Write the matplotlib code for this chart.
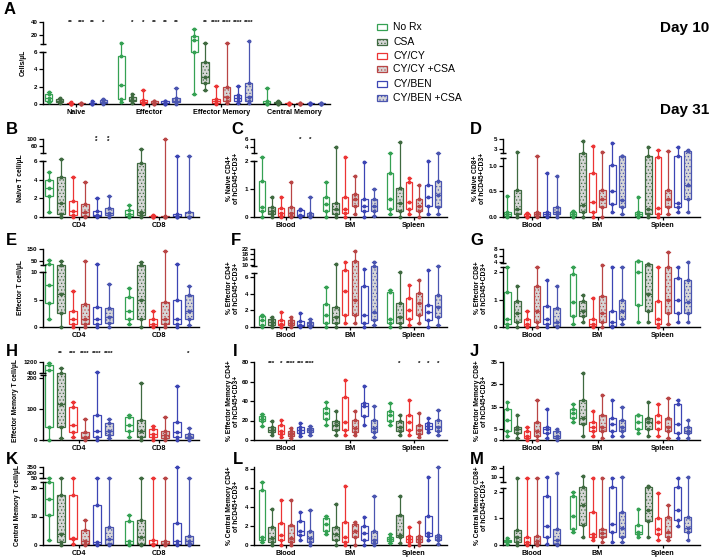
import numpy as np
import matplotlib
matplotlib.use("Agg")
import matplotlib.pyplot as plt
from matplotlib.patches import Rectangle

plt.rcParams['font.family'] = ['Liberation Sans', 'DejaVu Sans']
plt.rcParams['font.weight'] = 'bold'
plt.rcParams['hatch.linewidth'] = 0.5

treatments = ["No Rx", "CSA", "CY/CY", "CY/CY +CSA", "CY/BEN", "CY/BEN +CSA"]
colors = ["#35a153", "#3f6a40", "#ec3434", "#b94545", "#3c45b4", "#4a55b0"]
hatched = [False, True, False, True, False, True]

# ---- data (one list per treatment, in the order above) ----
A_groups = ["Naive", "Effector", "Effector Memory", "Central Memory"]
A_naive = [[0.2, 0.4, 0.7, 1.1, 1.4], [0.1, 0.2, 0.4, 0.6, 0.7], [0.0, 0.02, 0.05, 0.1, 0.2],
           [0.0, 0.02, 0.05, 0.1, 0.15], [0.0, 0.03, 0.08, 0.15, 0.3], [0.05, 0.1, 0.2, 0.5, 0.6]]
A_effector = [[0.2, 0.6, 2.2, 5.5, 7.0], [0.1, 0.3, 0.5, 0.8, 1.2], [0.0, 0.1, 0.2, 0.5, 1.6],
              [0.0, 0.05, 0.1, 0.3, 0.4], [0.0, 0.05, 0.1, 0.3, 0.4], [0.0, 0.2, 0.4, 0.7, 1.8]]
A_effmem = [[1.2, 6.0, 12.0, 18.0, 29.0], [1.6, 2.4, 3.1, 4.8, 7.5], [0.0, 0.1, 0.3, 0.6, 2.1],
            [0.1, 0.3, 0.8, 2.0, 7.0], [0.1, 0.4, 0.7, 1.0, 2.1], [0.1, 0.4, 0.8, 2.4, 10.6]]
A_centmem = [[0.0, 0.05, 0.1, 0.3, 1.8], [0.0, 0.05, 0.1, 0.2, 0.3], [0.0, 0.02, 0.05, 0.1, 0.15],
             [0.0, 0.02, 0.05, 0.1, 0.15], [0.0, 0.02, 0.05, 0.1, 0.15], [0.0, 0.02, 0.05, 0.1, 0.15]]

cd_groups = ["CD4", "CD8"]
tissue_groups = ["Blood", "BM", "Spleen"]

B_cd4 = [[0.5, 2.2, 3.1, 4.0, 4.8], [0.0, 0.3, 1.5, 4.3, 10.0], [0.0, 0.2, 0.6, 1.7, 4.3],
         [0.0, 0.1, 0.5, 1.4, 3.8], [0.0, 0.1, 0.2, 0.6, 2.0], [0.0, 0.2, 0.4, 1.0, 2.2]]
B_cd8 = [[0.0, 0.1, 0.3, 0.75, 1.3], [0.0, 0.2, 0.5, 5.8, 43.0], [0.0, 0.02, 0.05, 0.1, 0.2],
         [0.0, 0.02, 0.05, 0.1, 100.0], [0.0, 0.05, 0.1, 0.3, 15.0], [0.0, 0.02, 0.05, 0.5, 15.0]]

C_blood = [[0.0, 0.2, 0.35, 1.28, 2.15], [0.0, 0.1, 0.2, 0.36, 0.72], [0.0, 0.05, 0.15, 0.32, 0.72],
           [0.0, 0.05, 0.15, 0.36, 1.25], [0.0, 0.03, 0.08, 0.25, 0.3], [0.0, 0.02, 0.05, 0.15, 0.7]]
C_bm = [[0.0, 0.2, 0.45, 0.72, 1.25], [0.0, 0.1, 0.3, 0.5, 4.0], [0.0, 0.15, 0.3, 0.7, 2.15],
        [0.1, 0.4, 0.65, 0.82, 1.45], [0.0, 0.2, 0.4, 0.65, 1.95], [0.05, 0.2, 0.4, 0.65, 1.0]]
C_spleen = [[0.1, 0.3, 0.64, 1.57, 2.3], [0.0, 0.2, 0.5, 1.03, 5.2], [0.1, 0.3, 0.55, 1.25, 1.4],
            [0.0, 0.2, 0.4, 0.65, 1.14], [0.1, 0.4, 0.72, 1.15, 2.0], [0.1, 0.35, 0.8, 1.3, 2.4]]

D_blood = [[0.0, 0.02, 0.05, 0.1, 0.41], [0.0, 0.05, 0.15, 0.53, 2.4], [0.0, 0.0, 0.02, 0.05, 0.08],
           [0.0, 0.02, 0.05, 0.1, 1.6], [0.0, 0.02, 0.05, 0.1, 0.86], [0.0, 0.05, 0.1, 0.2, 0.8]]
D_bm = [[0.0, 0.02, 0.05, 0.1, 0.12], [0.0, 0.1, 0.24, 2.2, 4.6], [0.0, 0.1, 0.3, 0.86, 3.6],
        [0.0, 0.2, 0.36, 0.53, 2.5], [0.1, 0.25, 0.5, 1.02, 4.2], [0.05, 0.2, 0.34, 1.55, 1.6]]
D_spleen = [[0.0, 0.02, 0.05, 0.1, 0.39], [0.0, 0.05, 0.15, 1.6, 3.4], [0.0, 0.05, 0.17, 1.35, 2.8],
            [0.05, 0.2, 0.36, 0.53, 2.6], [0.1, 0.2, 0.28, 1.6, 3.4], [0.1, 0.35, 0.63, 2.7, 2.8]]

E_cd4 = [[1.5, 4.4, 7.6, 25.0, 58.0], [0.0, 2.5, 6.0, 17.0, 50.0], [0.0, 0.5, 1.5, 2.9, 6.5],
         [0.0, 0.5, 1.5, 4.2, 50.0], [0.0, 0.5, 1.5, 3.6, 25.0], [0.0, 0.8, 1.8, 3.5, 7.8]]
E_cd8 = [[0.5, 1.5, 3.0, 5.5, 7.1], [0.0, 1.5, 5.0, 17.0, 42.0], [0.0, 0.2, 0.5, 1.5, 2.9],
         [0.0, 0.5, 1.5, 4.5, 133.0], [0.0, 0.5, 1.5, 5.0, 25.0], [0.3, 1.5, 3.0, 5.8, 7.5]]

F_blood = [[0.0, 0.3, 0.8, 1.3, 1.5], [0.0, 0.3, 0.6, 1.0, 1.2], [0.0, 0.2, 0.4, 0.8, 1.8],
           [0.0, 0.2, 0.5, 0.9, 1.2], [0.0, 0.1, 0.3, 0.7, 1.7], [0.0, 0.1, 0.3, 0.6, 1.0]]
F_bm = [[0.0, 0.5, 1.5, 2.8, 4.8], [0.0, 0.5, 1.2, 2.4, 10.5], [0.5, 1.5, 4.3, 7.5, 12.0],
        [0.5, 1.5, 3.3, 12.8, 20.5], [0.0, 0.5, 1.5, 4.9, 8.0], [0.2, 0.8, 1.8, 9.0, 12.0]]
F_spleen = [[0.0, 0.5, 1.0, 4.2, 4.4], [0.0, 0.5, 1.2, 2.9, 6.7], [0.2, 1.0, 2.0, 3.5, 5.1],
            [0.5, 1.5, 2.9, 4.1, 5.7], [0.0, 0.8, 1.8, 2.6, 7.5], [0.3, 1.2, 2.4, 3.9, 9.0]]

G_blood = [[0.0, 0.1, 0.3, 1.27, 2.2], [0.0, 0.2, 0.5, 0.95, 1.5], [0.0, 0.05, 0.1, 0.3, 0.6],
           [0.0, 0.2, 0.6, 1.5, 2.2], [0.0, 0.1, 0.3, 0.75, 1.7], [0.0, 0.05, 0.2, 0.7, 1.5]]
G_bm = [[0.1, 0.4, 0.9, 1.93, 2.2], [0.2, 0.4, 0.6, 0.95, 1.15], [0.0, 0.05, 0.1, 0.3, 1.05],
        [0.0, 0.2, 0.5, 1.12, 3.0], [0.0, 0.05, 0.2, 0.6, 2.2], [0.1, 0.3, 0.6, 0.97, 2.2]]
G_spleen = [[0.2, 0.8, 2.0, 4.2, 4.3], [0.2, 0.6, 1.2, 3.2, 3.4], [0.0, 0.1, 0.3, 0.95, 2.2],
            [0.1, 0.5, 1.0, 2.2, 7.0], [0.2, 0.5, 1.0, 1.8, 2.2], [0.2, 0.5, 0.9, 1.7, 4.0]]

H_cd4 = [[0.0, 42.0, 600.0, 1000.0, 1100.0], [5.0, 42.0, 116.0, 430.0, 750.0], [10.0, 25.0, 50.0, 106.0, 122.0],
         [0.0, 5.0, 10.0, 25.0, 68.0], [0.0, 10.0, 30.0, 80.0, 500.0], [5.0, 15.0, 30.0, 55.0, 68.0]]
H_cd8 = [[10.0, 30.0, 50.0, 75.0, 82.0], [0.0, 10.0, 30.0, 65.0, 185.0], [0.0, 10.0, 20.0, 35.0, 45.0],
         [0.0, 5.0, 15.0, 30.0, 75.0], [0.0, 10.0, 25.0, 58.0, 175.0], [0.0, 5.0, 10.0, 20.0, 40.0]]

I_blood = [[14, 19, 22, 25, 27], [5, 8, 10, 13, 19], [3, 6, 9, 15, 21],
           [2, 4, 6, 9, 12], [4, 7, 10, 13, 17], [5, 8, 10, 12, 14]]
I_bm = [[15, 22, 28, 33, 39], [5, 10, 15, 19, 30], [5, 10, 18, 44, 62],
        [5, 8, 12, 21, 30], [15, 25, 35, 38, 55], [3, 8, 12, 21, 35]]
I_spleen = [[15, 20, 26, 30, 38], [5, 9, 13, 19, 26], [5, 10, 18, 26, 41],
            [3, 6, 10, 15, 28], [8, 11, 14, 17, 23], [5, 9, 13, 21, 31]]

J_blood = [[2, 4, 9, 14, 17], [1, 3, 5, 6, 11], [0, 1, 2, 4, 6],
           [0, 2, 4, 8, 18], [1, 3, 5, 6, 14], [0, 1, 2, 4, 5]]
J_bm = [[8, 10, 12, 14, 16], [2, 7, 10, 18, 30], [2, 4, 6, 8, 13],
        [1, 4, 6, 11, 20], [2, 4, 7, 10, 18], [2, 4, 6, 9, 15]]
J_spleen = [[3, 5, 8, 11, 11], [2, 5, 8, 10, 17], [2, 5, 8, 11, 16],
            [1, 4, 6, 10, 19], [1, 3, 7, 16, 18], [1, 3, 4, 6, 9]]

K_cd4 = [[1.8, 10.5, 16.0, 23.0, 45.0], [0.0, 1.0, 4.0, 17.5, 45.0], [0.5, 2.0, 2.5, 17.5, 45.0],
         [0.0, 0.5, 1.5, 5.2, 8.7], [0.0, 0.5, 1.0, 14.0, 60.0], [0.0, 0.5, 2.0, 6.2, 45.0]]
K_cd8 = [[0.0, 0.5, 1.5, 8.3, 10.5], [0.0, 0.5, 2.9, 8.7, 45.0], [0.0, 0.2, 0.5, 1.8, 45.0],
         [0.0, 0.2, 0.5, 1.5, 45.0], [0.0, 0.5, 1.5, 7.8, 350.0], [0.0, 0.5, 1.5, 3.3, 60.0]]

L_blood = [[0.3, 0.5, 0.8, 5.8, 6.6], [0.0, 0.3, 0.7, 1.9, 3.8], [0.0, 0.5, 1.0, 2.3, 4.7],
           [0.0, 0.3, 0.7, 2.1, 4.7], [0.5, 1.0, 1.5, 2.5, 3.5], [0.0, 0.3, 0.7, 1.5, 3.7]]
L_bm = [[1.2, 1.5, 2.2, 2.8, 3.0], [0.0, 0.5, 1.2, 1.9, 4.3], [0.0, 0.3, 0.8, 2.4, 6.2],
        [0.0, 0.8, 1.5, 2.2, 2.4], [0.0, 0.5, 1.3, 2.0, 2.9], [0.0, 0.2, 0.5, 1.5, 5.1]]
L_spleen = [[0.2, 0.4, 0.6, 0.8, 1.2], [0.2, 0.8, 1.1, 3.2, 5.2], [0.0, 0.3, 0.6, 0.9, 1.9],
            [0.0, 0.3, 0.6, 0.9, 2.4], [0.5, 0.9, 1.3, 3.0, 7.1], [0.1, 0.5, 0.8, 1.0, 8.2]]

M_blood = [[0.05, 0.1, 0.15, 0.2, 0.25], [0.0, 0.1, 0.3, 0.55, 9.0], [0.0, 0.05, 0.1, 0.3, 9.0],
           [0.0, 0.05, 0.15, 0.35, 9.0], [0.05, 0.3, 0.7, 1.83, 10.0], [0.0, 0.05, 0.2, 0.6, 15.0]]
M_bm = [[0.5, 0.6, 1.1, 1.83, 2.0], [0.3, 0.75, 1.5, 2.5, 11.0], [0.2, 0.3, 0.43, 1.25, 9.0],
        [0.1, 0.3, 0.45, 0.6, 9.0], [0.1, 0.5, 0.8, 2.2, 9.0], [0.1, 0.3, 0.65, 1.25, 10.0]]
M_spleen = [[0.3, 0.4, 0.5, 0.75, 1.35], [0.3, 0.9, 1.3, 2.4, 3.0], [0.2, 0.4, 0.6, 1.0, 1.95],
            [0.2, 0.3, 0.5, 1.05, 1.5], [0.7, 0.95, 1.3, 2.3, 9.0], [0.2, 0.5, 0.65, 1.05, 10.0]]

W, H = 709, 558
fig = plt.figure(figsize=(W / 100, H / 100), dpi=100)


def draw_panel(letter, letter_xy, groups, data, xpix, ymap, ticks, ticklabels, ylabel, ylabel_x,
               brk=None, stars=(), star_y=None):
    xl, xr, c0, step = xpix
    vals, ys = ymap
    ybot, ytop = ys[0], ys[-1]
    ax = fig.add_axes([xl / W, 1 - ybot / H, (xr - xl) / W, (ybot - ytop) / H])
    hts = [ybot - y for y in ys]
    ax.set_yscale('function', functions=(lambda v: np.interp(v, vals, hts),
                                         lambda p: np.interp(p, hts, vals)))
    ax.set_ylim(vals[0], vals[-1])
    ax.set_xlim((xl - c0) / step, (xr - c0) / step)

    for g, boxes in enumerate(data):
        for j, v in enumerate(boxes):
            x = g + (j - 2.5) * 0.15
            col = colors[j]
            bp = ax.boxplot([v], positions=[x], widths=0.1, whis=(0, 100), patch_artist=True,
                            showfliers=False, manage_ticks=False)
            for b in bp['boxes']:
                b.set(facecolor='#d6d6d6' if hatched[j] else 'white', edgecolor=col,
                      linewidth=0.9, hatch='.....' if hatched[j] else None, zorder=2)
            for k in ('whiskers', 'caps', 'medians'):
                for ln in bp[k]:
                    ln.set(color=col, linewidth=0.9)
            ax.plot([x] * len(v), v, 'o', ms=1.8, color=col, zorder=4, clip_on=False)

    for s in ('top', 'right', 'left'):
        ax.spines[s].set_visible(False)
    ax.spines['bottom'].set_linewidth(1.0)
    tr = ax.get_yaxis_transform()
    if brk is None:
        ax.plot([0, 0], [vals[0], vals[-1]], color='black', lw=1.0, transform=tr, clip_on=False)
    else:
        ax.plot([0, 0], [vals[0], brk[0]], color='black', lw=1.0, transform=tr, clip_on=False)
        ax.plot([0, 0], [brk[1], vals[-1]], color='black', lw=1.0, transform=tr, clip_on=False)
        ax.plot([0, 0], brk, ls='none', marker='_', ms=5, mew=1.0, color='black',
                transform=tr, clip_on=False)

    ax.set_yticks(ticks)
    ax.set_yticklabels(ticklabels)
    ax.yaxis.set_minor_locator(matplotlib.ticker.NullLocator())
    ax.tick_params(axis='y', length=3, width=0.9, labelsize=4.5, pad=1)
    ax.set_xticks(range(len(groups)))
    ax.set_xticklabels(groups)
    ax.tick_params(axis='x', length=2, width=0.9, labelsize=5.2, pad=1.5)

    fig.text(ylabel_x / W, 1 - (ybot + ytop) / 2 / H, ylabel, rotation=90, ha='center',
             va='center', fontsize=4.9, linespacing=1.05)
    fig.text(letter_xy[0] / W, 1 - letter_xy[1] / H, letter, fontsize=12, ha='left', va='center')

    if stars:
        sy = (ybot - star_y) / (ybot - ytop)
        for g, j, txt in stars:
            ax.text(g + (j - 2.5) * 0.15, sy, txt, transform=ax.get_xaxis_transform(), ha='center',
                    va='center', fontsize=4.5, linespacing=0.5, clip_on=False)
    return ax


col1 = (43, 199, 78.5, 80)
col2 = (254, 447, 286, 64)
col3 = (503, 700, 532, 65.5)
pct = "of hCD45+CD3+"

draw_panel("A", (4, 10), A_groups, [A_naive, A_effector, A_effmem, A_centmem], (43, 330, 76, 72.7),
           ([0, 6, 6.0001, 40], [104, 52, 44, 22]), [0, 2, 4, 6, 20, 40], ["0", "2", "4", "6", "20", "40"],
           "Cells/µL", 23, brk=(6, 6.0001),
           stars=[(0, 2, "**"), (0, 3, "***"), (0, 4, "**"), (0, 5, "*"),
                  (1, 1, "*"), (1, 2, "*"), (1, 3, "**"), (1, 4, "**"), (1, 5, "**"),
                  (2, 1, "**"), (2, 2, "****"), (2, 3, "****"), (2, 4, "****"), (2, 5, "****")],
           star_y=22)

draw_panel("B", (6, 130), cd_groups, [B_cd4, B_cd8], col1,
           ([0, 6, 20, 100], [217, 161, 153, 139]), [0, 2, 4, 6, 60, 100], ["0", "2", "4", "6", "60", "100"],
           "Naive T cell/µL", 20, brk=(6, 20), stars=[(0, 4, "*\n*"), (0, 5, "*\n*")], star_y=140)
draw_panel("C", (231, 130), tissue_groups, [C_blood, C_bm, C_spleen], col2,
           ([0, 2, 2.3, 6], [217, 161, 153, 139]), [0, 1, 2, 4, 6], ["0", "1", "2", "4", "6"],
           "% Naive CD4+\n" + pct, 233, brk=(2, 2.3), stars=[(0, 4, "*"), (0, 5, "*")], star_y=139)
draw_panel("D", (470, 130), tissue_groups, [D_blood, D_bm, D_spleen], col3,
           ([0, 1.15, 2.2, 5], [217, 158, 153, 139]), [0, 0.5, 1.0, 3, 5], ["0.0", "0.5", "1.0", "3", "5"],
           "% Naive CD8+\n" + pct, 479, brk=(1.15, 2.2))

draw_panel("E", (6, 240), cd_groups, [E_cd4, E_cd8], col1,
           ([0, 10, 17, 150], [327, 272, 265, 249]), [0, 5, 10, 50, 150], ["0", "5", "10", "50", "150"],
           "Effector T cell/µL", 20, brk=(10, 17))
draw_panel("F", (231, 240), tissue_groups, [F_blood, F_bm, F_spleen], col2,
           ([0, 6.5, 9, 22], [327, 273, 266, 249]), [0, 2, 4, 6, 10, 14, 18, 22],
           ["0", "2", "4", "6", "10", "14", "18", "22"],
           "% Effector CD4+\n" + pct, 233, brk=(6.5, 9))
draw_panel("G", (470, 240), tissue_groups, [G_blood, G_bm, G_spleen], col3,
           ([0, 2.2, 3.6, 8], [327, 266.5, 263.3, 249]), [0, 1, 2, 4, 6, 8], ["0", "1", "2", "4", "6", "8"],
           "% Effector CD8+\n" + pct, 481, brk=(2.2, 3.6))

draw_panel("H", (6, 352), cd_groups, [H_cd4, H_cd8], col1,
           ([0, 210, 400, 1200], [440, 375, 373, 362]), [0, 100, 200, 400, 1200],
           ["0", "100", "200", "400", "1200"],
           "Effector Memory T cell/µL", 16, brk=(210, 400),
           stars=[(0, 1, "**"), (0, 2, "***"), (0, 3, "****"), (0, 4, "****"), (0, 5, "****"), (1, 5, "*")],
           star_y=353)
draw_panel("I", (233, 352), tissue_groups, [I_blood, I_bm, I_spleen], col2,
           ([0, 80], [440, 362]), [0, 20, 40, 60, 80], ["0", "20", "40", "60", "80"],
           "% Effector Memory CD4+\n" + pct, 233,
           stars=[(0, 1, "***"), (0, 2, "*"), (0, 3, "****"), (0, 4, "***"), (0, 5, "****"),
                  (2, 1, "*"), (2, 3, "*"), (2, 4, "*"), (2, 5, "*")], star_y=363)
draw_panel("J", (470, 352), tissue_groups, [J_blood, J_bm, J_spleen], col3,
           ([0, 35], [440, 362]), [0, 5, 15, 25, 35], ["0", "5", "15", "25", "35"],
           "% Effector Memory CD8+\n" + pct, 481)

draw_panel("K", (6, 460), cd_groups, [K_cd4, K_cd8], col1,
           ([0, 22, 40, 350], [545, 482.3, 478.4, 467]), [0, 10, 20, 50, 200, 350],
           ["0", "10", "20", "50", "200", "350"],
           "Central Memory T cell/µL", 18, brk=(22, 40))
draw_panel("L", (233, 460), tissue_groups, [L_blood, L_bm, L_spleen], col2,
           ([0, 8.2], [545, 467]), [0, 2, 4, 6, 8], ["0", "2", "4", "6", "8"],
           "% Central Memory CD4+\n" + pct, 233)
draw_panel("M", (470, 460), tissue_groups, [M_blood, M_bm, M_spleen], col3,
           ([0, 2.15, 5, 22], [545, 487.6, 481.5, 466.2]), [0, 1, 2, 10, 20], ["0", "1", "2", "10", "20"],
           "% Central Memory CD8+\n" + pct, 481, brk=(2.15, 5))

# legend
leg_y = [27, 42, 56, 69, 84, 98]
for j, name in enumerate(treatments):
    fig.add_artist(Rectangle((377 / W, 1 - (leg_y[j] + 3) / H), 10 / W, 6 / H,
                             facecolor='#d6d6d6' if hatched[j] else 'white', edgecolor=colors[j],
                             hatch='.....' if hatched[j] else None, lw=0.9, transform=fig.transFigure))
    fig.text(393 / W, 1 - leg_y[j] / H, name, fontsize=7.5, fontweight='normal', va='center', ha='left')

fig.text(685 / W, 1 - 28 / H, "Day 10", fontsize=11, ha='center', va='center')
fig.text(685 / W, 1 - 110 / H, "Day 31", fontsize=11, ha='center', va='center')

fig.savefig("out.png", dpi=100)
